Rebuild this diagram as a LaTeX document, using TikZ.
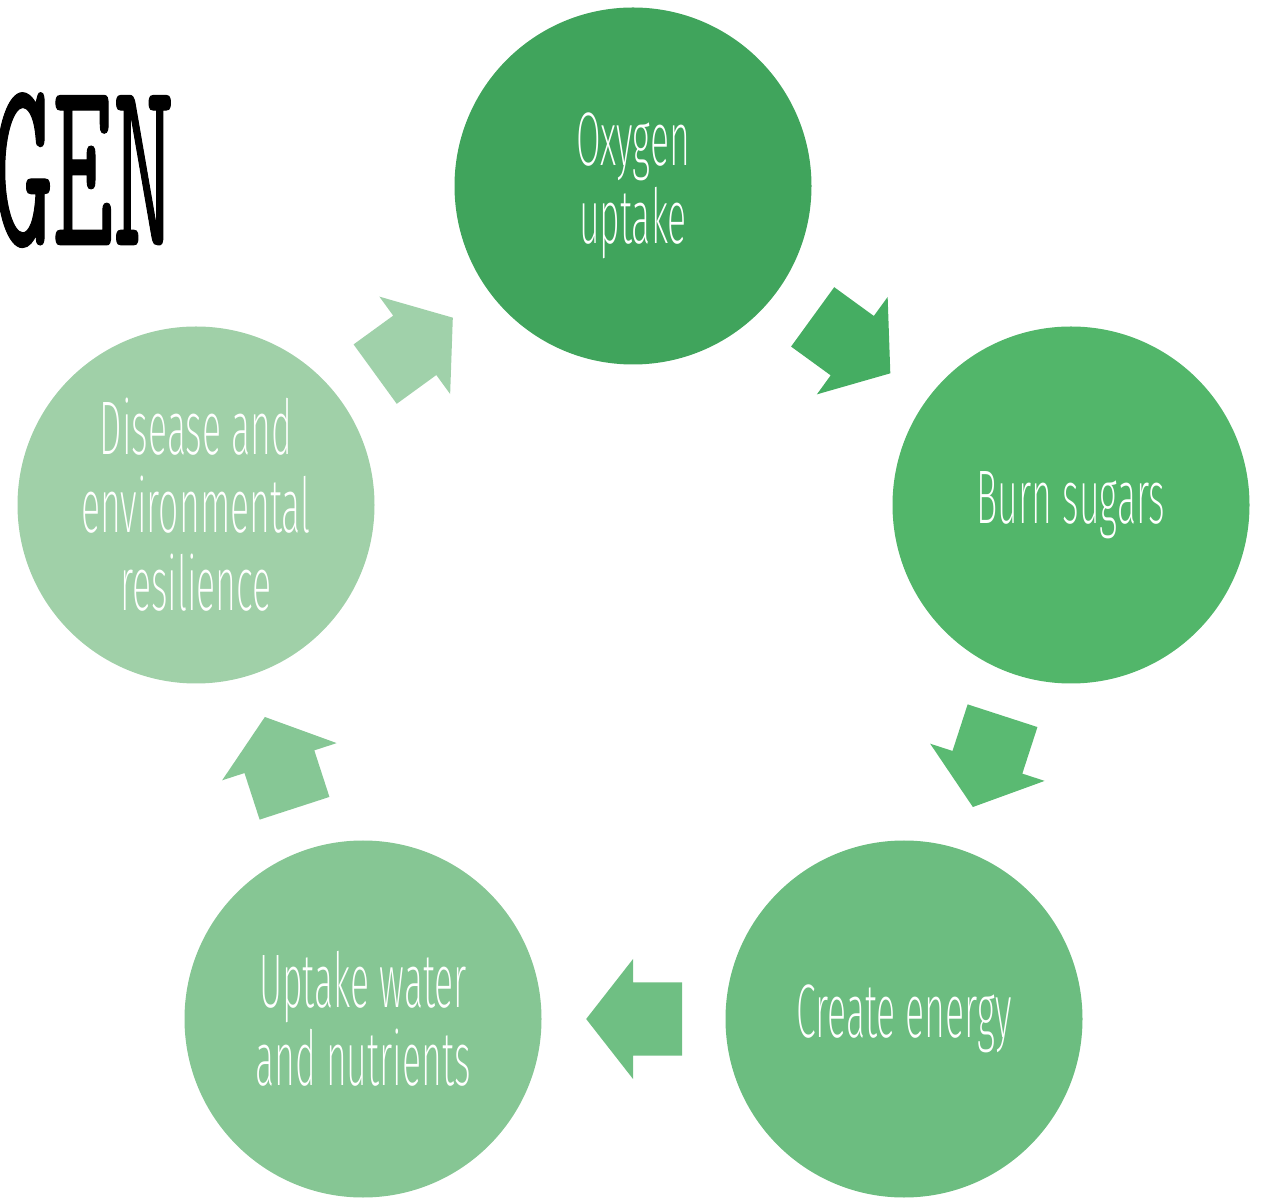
\documentclass[tikz,border=0pt]{standalone}
\usepackage{fontspec}
\usetikzlibrary{shapes.arrows,calc}
\newfontfamily\circfont[FakeStretch=0.47]{Fira Sans ExtraLight}
\newfontfamily\titlefont[FakeStretch=0.47,FakeBold=0.4]{lmmono10-regular.otf}
\definecolor{stepA}{RGB}{64,164,92}
\definecolor{stepB}{RGB}{82,182,106}
\definecolor{stepC}{RGB}{108,189,128}
\definecolor{stepD}{RGB}{134,198,148}
\definecolor{stepE}{RGB}{160,208,168}
\definecolor{turnA}{RGB}{69,173,98}
\definecolor{turnB}{RGB}{90,186,114}
\definecolor{turnC}{RGB}{111,191,131}
\definecolor{turnD}{RGB}{134,199,149}
\definecolor{turnE}{RGB}{160,209,170}

\begin{document}
\begin{tikzpicture}[x=1pt,y=1pt,
  stage/.style={circle,minimum size=357pt,inner sep=0pt,text=white,align=center,
    font=\circfont\fontsize{76}{78}\selectfont},
  turn/.style={single arrow,minimum height=96pt,inner xsep=0pt,inner ysep=36.5pt,
    single arrow head extend=23.5pt,single arrow tip angle=104}]
\useasboundingbox (0,0) rectangle (1263,1197);

\node[inner sep=0pt,anchor=base east,font=\titlefont\fontsize{245}{245}\selectfont] (title) at (174,952) {GEN};

\node[stage,fill=stepA] (oxy) at (633,1011) {Oxygen\\uptake};
\node[stage,fill=stepB] (burn) at (1071,692) {Burn sugars};
\node[stage,fill=stepC] (energy) at (904,178) {Create energy};
\node[stage,fill=stepD] (water) at (363,178) {Uptake water\\and nutrients};
\node[stage,fill=stepE] (resil) at (196,692) {Disease and\\environmental\\resilience};

\node[turn,fill=turnA,rotate=-36] (a1) at ($(burn)!0.5!(oxy)!15pt!(oxy)$) {};
\node[turn,fill=turnB,rotate=-108] (a2) at ($(energy)!0.5!(burn)!15pt!(burn)$) {};
\node[turn,fill=turnC,rotate=180] (a3) at ($(water)!0.5!(energy)!15pt!(energy)$) {};
\node[turn,fill=turnD,rotate=108] (a4) at ($(resil)!0.5!(water)!15pt!(water)$) {};
\node[turn,fill=turnE,rotate=36] (a5) at ($(oxy)!0.5!(resil)!15pt!(resil)$) {};
\end{tikzpicture}
\end{document}
